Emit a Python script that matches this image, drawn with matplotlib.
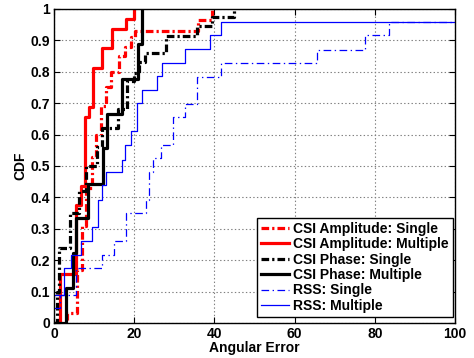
import matplotlib
matplotlib.use("Agg")
import matplotlib.pyplot as plt

plt.rcParams['font.family'] = ['Liberation Sans', 'DejaVu Sans']
plt.rcParams['font.weight'] = 'bold'
plt.rcParams['lines.scale_dashes'] = False

# CSI Amplitude: Single (red dash-dot)
amp_single_x = [0, 3.2, 5.8, 7.0, 8.0, 9.5, 10.5, 11.7, 13.0, 14.1, 16.2, 17.7, 19.3, 20.2, 36.0, 39.5]
amp_single_y = [0, 0.031, 0.17, 0.31, 0.43, 0.53, 0.60, 0.69, 0.75, 0.80, 0.85, 0.88, 0.91, 0.93, 0.965, 1.0]

# CSI Amplitude: Multiple (red solid)
amp_multi_x = [0, 1.5, 5.6, 6.6, 7.6, 8.7, 9.7, 11.9, 14.5, 17.9, 20.0]
amp_multi_y = [0, 0.156, 0.375, 0.4375, 0.656, 0.6875, 0.8125, 0.875, 0.9375, 0.96875, 1.0]

# CSI Phase: Single (black dash-dot)
ph_single_x = [0, 0.8, 1.2, 4.0, 6.2, 8.0, 10.6, 12.0, 16.0, 18.2, 20.0, 21.1, 22.7, 27.8, 35.7, 39.5, 44.9]
ph_single_y = [0, 0.10, 0.238, 0.35, 0.42, 0.50, 0.56, 0.62, 0.68, 0.77, 0.795, 0.83, 0.86, 0.915, 0.946, 0.975, 1.0]

# CSI Phase: Multiple (black solid)
ph_multi_x = [0, 3.1, 4.7, 5.6, 8.5, 12.2, 13.3, 16.9, 21.0, 21.9]
ph_multi_y = [0, 0.111, 0.222, 0.333, 0.444, 0.556, 0.667, 0.778, 0.889, 1.0]

# RSS: Single (blue dash-dot)
rss_single_x = [0, 1.5, 5.4, 12.0, 15.0, 17.9, 22.9, 23.7, 24.8, 26.6, 29.7, 32.7, 35.7, 41.6, 65.7, 77.6, 83.5, 100]
rss_single_y = [0.047, 0.09, 0.175, 0.217, 0.26, 0.35, 0.39, 0.48, 0.525, 0.567, 0.655, 0.697, 0.784, 0.829, 0.87, 0.917, 0.96, 0.96]

# RSS: Multiple (blue solid)
rss_multi_x = [0, 2.5, 4.3, 6.6, 9.5, 11.0, 11.9, 12.9, 16.9, 17.7, 19.1, 20.8, 22.0, 25.8, 26.9, 32.7, 38.8, 41.7, 100]
rss_multi_y = [0.09, 0.175, 0.217, 0.26, 0.307, 0.39, 0.44, 0.48, 0.52, 0.567, 0.61, 0.70, 0.742, 0.787, 0.829, 0.872, 0.917, 0.96, 0.96]

labels = ["CSI Amplitude: Single", "CSI Amplitude: Multiple", "CSI Phase: Single",
          "CSI Phase: Multiple", "RSS: Single", "RSS: Multiple"]
xticks = [0, 20, 40, 60, 80, 100]
yticks = [0, 0.1, 0.2, 0.3, 0.4, 0.5, 0.6, 0.7, 0.8, 0.9, 1]
ytick_labels = ["0", "0.1", "0.2", "0.3", "0.4", "0.5", "0.6", "0.7", "0.8", "0.9", "1"]

fig = plt.figure(figsize=(4.74, 3.58), dpi=100)
ax = fig.add_axes([0.114, 0.098, 0.846, 0.877])

thick_dd = (0, (5.5, 2.2, 1.6, 2.2))
thin_dd = (0, (5.5, 2.5, 1.0, 2.5))
ax.step(amp_single_x, amp_single_y, where='post', color='red', ls=thick_dd, lw=2.3, label=labels[0])
ax.step(amp_multi_x, amp_multi_y, where='post', color='red', ls='-', lw=2.3, label=labels[1])
ax.step(ph_single_x, ph_single_y, where='post', color='black', ls=thick_dd, lw=2.3, label=labels[2])
ax.step(ph_multi_x, ph_multi_y, where='post', color='black', ls='-', lw=2.3, label=labels[3])
ax.step(rss_single_x, rss_single_y, where='post', color='blue', ls=thin_dd, lw=0.9, label=labels[4])
ax.step(rss_multi_x, rss_multi_y, where='post', color='blue', ls='-', lw=0.9, label=labels[5])

ax.set_xlim(0, 100)
ax.set_ylim(0, 1)
ax.set_xticks(xticks)
ax.set_yticks(yticks)
ax.set_yticklabels(ytick_labels)
ax.tick_params(direction='in', top=True, right=True, labelsize=10, length=4, pad=3)
for lab in ax.get_xticklabels() + ax.get_yticklabels():
    lab.set_fontweight('bold')
ax.grid(True, ls=':', color='#808080', lw=0.8)
ax.set_axisbelow(True)
ax.set_xlabel("Angular Error", fontsize=10, fontweight='bold', labelpad=0)
ax.set_ylabel("CDF", fontsize=10, fontweight='bold', labelpad=2)
for s in ax.spines.values():
    s.set_linewidth(1.0)

leg = ax.legend(loc='lower right', bbox_to_anchor=(0.995, 0.019), fontsize=10, frameon=True,
                fancybox=False, edgecolor='black', framealpha=1, handlelength=2.0,
                handletextpad=0.3, labelspacing=0.1, borderpad=0.3, borderaxespad=0,
                prop={'weight': 'bold', 'size': 10})
leg.get_frame().set_linewidth(1.0)

fig.savefig("out.png", dpi=100)
